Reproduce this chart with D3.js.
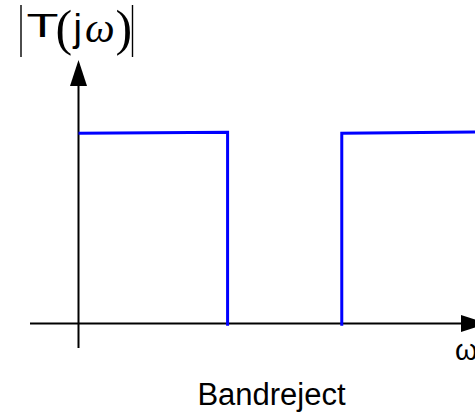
<!DOCTYPE html>
<html>
<head>
<meta charset="utf-8">
<script src="https://cdn.jsdelivr.net/npm/d3@7"></script>
<style>
  html, body { margin: 0; padding: 0; background: #fff; }
  svg { display: block; }
</style>
</head>
<body>
<svg id="chart" width="475" height="417"></svg>
<script>
// Ideal band-reject magnitude response |T(jω)|: passband, stopband, passband.
const lowerBand = [
  { w: 0.0,  mag: 1.0 },
  { w: 3.76, mag: 1.005 },
  { w: 3.76, mag: -0.012 }
];
const upperBand = [
  { w: 6.64, mag: -0.012 },
  { w: 6.64, mag: 1.0 },
  { w: 10.0, mag: 1.006 }
];
const bands = [lowerBand, upperBand];
const caption = "Bandreject";
const xAxisLabel = "ω";

const svg = d3.select("#chart");

const x = d3.scaleLinear().domain([0, 10]).range([78.5, 475]);
const y = d3.scaleLinear().domain([0, 1]).range([323.5, 133.2]);

// Axes: plain lines with solid arrowheads
const axes = svg.append("g").attr("stroke", "#000").attr("stroke-width", 2);
axes.append("line")
  .attr("x1", 30).attr("x2", 462)
  .attr("y1", y(0)).attr("y2", y(0));
axes.append("line")
  .attr("x1", x(0)).attr("x2", x(0))
  .attr("y1", 348).attr("y2", 85);

svg.append("path")
  .attr("d", `M${x(0)},60 L${x(0) - 8.5},86 L${x(0) + 8.5},86 Z`)
  .attr("fill", "#000");
svg.append("path")
  .attr("d", `M487,${y(0)} L461,${y(0) - 8.5} L461,${y(0) + 8.5} Z`)
  .attr("fill", "#000");

// Response curve
const line = d3.line().x(d => x(d.w)).y(d => y(d.mag));
svg.append("g").selectAll("path")
  .data(bands)
  .join("path")
  .attr("d", line)
  .attr("fill", "none")
  .attr("stroke", "#0000ff")
  .attr("stroke-width", 3)
  .attr("stroke-linejoin", "miter");

// Axis labels (the ω runs off the right edge of the drawing)
svg.append("text")
  .attr("x", 455).attr("y", 360)
  .attr("font-family", "Liberation Sans, Arial, sans-serif")
  .attr("font-size", 29)
  .text(xAxisLabel);

svg.append("text")
  .attr("x", 271.5).attr("y", 405)
  .attr("text-anchor", "middle")
  .attr("font-family", "Liberation Sans, Arial, sans-serif")
  .attr("font-size", 31)
  .attr("fill", "#000")
  .text(caption);

// |T(jω)| title built from separate glyphs
const title = svg.append("g").attr("fill", "#000");
title.append("line").attr("x1", 21).attr("x2", 21).attr("y1", 5).attr("y2", 57)
  .attr("stroke", "#000").attr("stroke-width", 1.4);
title.append("line").attr("x1", 132.5).attr("x2", 132.5).attr("y1", 5).attr("y2", 57)
  .attr("stroke", "#000").attr("stroke-width", 1.4);
title.append("text")
  .attr("x", 26.5).attr("y", 37)
  .attr("font-family", "Liberation Sans, Arial, sans-serif")
  .attr("font-size", 32.5)
  .attr("textLength", 32).attr("lengthAdjust", "spacingAndGlyphs")
  .text("T");
title.append("text")
  .attr("x", 55.5).attr("y", 45)
  .attr("font-family", "Liberation Serif, Times New Roman, serif")
  .attr("font-size", 50)
  .text("(");
title.append("text")
  .attr("x", 73.5).attr("y", 41)
  .attr("font-family", "Liberation Sans, Arial, sans-serif")
  .attr("font-size", 38)
  .text("j");
title.append("text")
  .attr("x", 85).attr("y", 42)
  .attr("font-family", "Liberation Serif, Times New Roman, serif")
  .attr("font-style", "italic")
  .attr("font-size", 42)
  .text("ω");
title.append("text")
  .attr("x", 115.5).attr("y", 45)
  .attr("font-family", "Liberation Serif, Times New Roman, serif")
  .attr("font-size", 50)
  .text(")");
</script>
</body>
</html>
